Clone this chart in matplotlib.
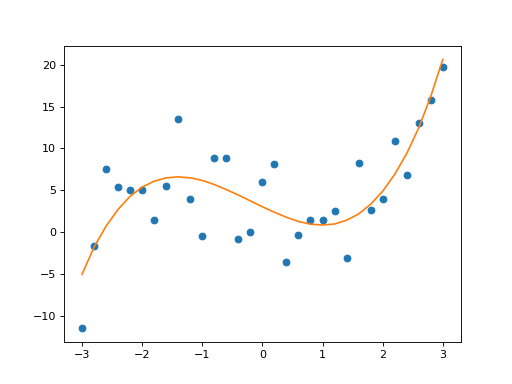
import numpy as np
import matplotlib
matplotlib.use("Agg")
import matplotlib.pyplot as plt

# puntos observados
x = [-3.0, -2.8, -2.6, -2.4, -2.2, -2.0, -1.8, -1.6, -1.4, -1.2, -1.0,
     -0.8, -0.6, -0.4, -0.2, 0.0, 0.2, 0.4, 0.6, 0.8, 1.0,
     1.2, 1.4, 1.6, 1.8, 2.0, 2.2, 2.4, 2.6, 2.8, 3.0]
y = [-11.43, -1.67, 7.5, 5.36, 5.0, 5.0, 1.43, 5.48, 13.57, 3.93, -0.48,
     8.81, 8.81, -0.83, 0.0, 5.95, 8.1, -3.57, -0.36, 1.43, 1.43,
     2.5, -3.1, 8.21, 2.62, 3.93, 10.87, 6.79, 13.01, 15.83, 19.76]

# curva ajustada
y_fit = [-5.0, -1.75, 0.75, 2.75, 4.3, 5.4, 6.1, 6.5, 6.62, 6.5, 6.2,
         5.7, 5.1, 4.45, 3.75, 3.05, 2.4, 1.8, 1.3, 0.98, 0.88,
         1.0, 1.45, 2.2, 3.35, 4.9, 6.9, 9.4, 12.45, 16.2, 20.6]

fig = plt.figure(figsize=(6.4, 4.8), dpi=80)
plt.scatter(x, y)
plt.plot(x, y_fit, color="C1")
plt.savefig("out.png")
